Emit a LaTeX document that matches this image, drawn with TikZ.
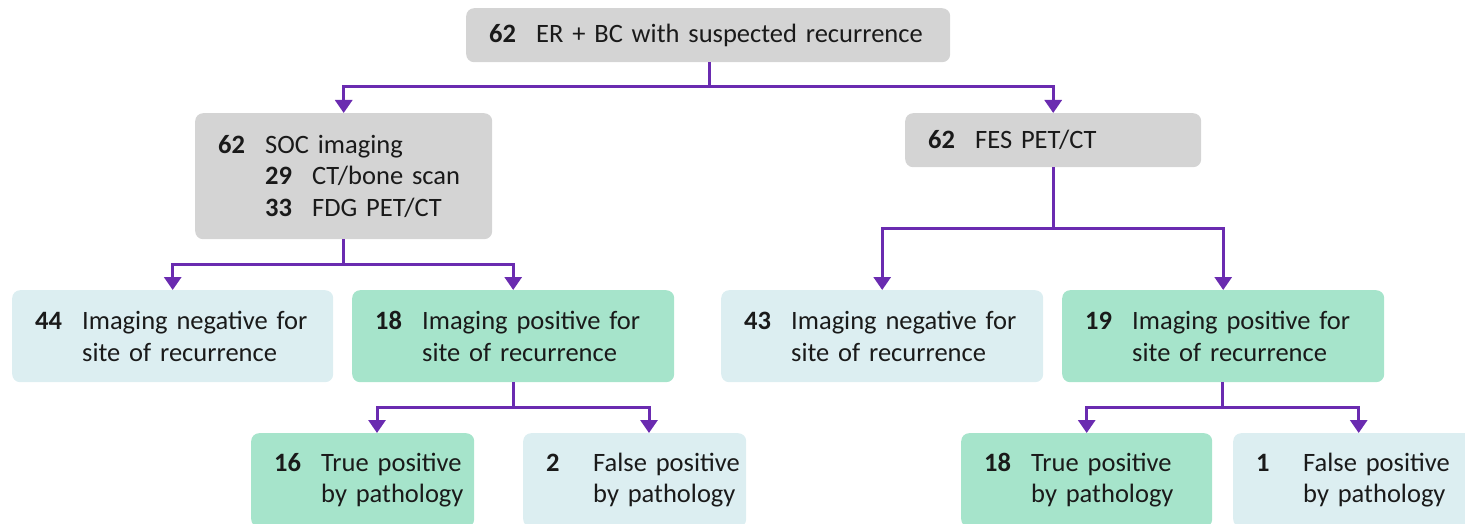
\documentclass[tikz,border=0pt]{standalone}
\usepackage{fontspec}
\setmainfont{Carlito}
\usetikzlibrary{arrows.meta, positioning}
\definecolor{boxgray}{HTML}{D4D4D4}
\definecolor{negblue}{HTML}{DCEEF1}
\definecolor{posgreen}{HTML}{A6E4CB}
\definecolor{linepurple}{HTML}{6A2BB0}
\definecolor{inkgray}{HTML}{1A1A1A}
\newcommand{\countlabel}[1]{\makebox[47pt][l]{\textbf{#1}}}
\newcommand{\indentline}{\hspace*{47pt}}
\newcommand{\twoline}[3]{\countlabel{#1}\mbox{#2}\\\indentline\mbox{#3}}

\begin{document}
\begin{tikzpicture}[
      x=1pt, y=-1pt,
      box/.style={rounded corners=8pt, inner xsep=23pt, inner ysep=0pt,
                  align=left, anchor=north west, text=inkgray,
                  font=\fontsize{26.5}{31.5}\selectfont},
      arr/.style={-{Triangle[width=17pt,length=13pt]}, line width=3pt,
                  draw=linepurple},
      stem/.style={line width=3pt, draw=linepurple}
    ]
    \useasboundingbox (0,0) rectangle (1465,524);
    \clip (0,0) rectangle (1465,524);

    % top level
    \node[box, fill=boxgray, text width=438pt, minimum height=54pt] (start)
      at (466,8) {\countlabel{62}\mbox{ER + BC with suspected recurrence}};

    % imaging arms
    \node[box, fill=boxgray, text width=251pt, minimum height=126pt] (soc)
      at (195,113)
      {\countlabel{62}\mbox{SOC imaging}\\
       \indentline\countlabel{29}\mbox{CT/bone scan}\\
       \indentline\countlabel{33}\mbox{FDG PET/CT}};
    \node[box, fill=boxgray, text width=250pt, minimum height=54pt] (fes)
      at (905,113) {\countlabel{62}\mbox{FES PET/CT}};

    % imaging results
    \node[box, fill=negblue, text width=275pt, minimum height=92pt] (socneg)
      at (12,290) {\twoline{44}{Imaging negative for}{site of recurrence}};
    \node[box, fill=posgreen, text width=276pt, minimum height=92pt] (socpos)
      at (352,290) {\twoline{18}{Imaging positive for}{site of recurrence}};
    \node[box, fill=negblue, text width=276pt, minimum height=92pt] (fesneg)
      at (721,290) {\twoline{43}{Imaging negative for}{site of recurrence}};
    \node[box, fill=posgreen, text width=276pt, minimum height=92pt] (fespos)
      at (1062,290) {\twoline{19}{Imaging positive for}{site of recurrence}};

    % pathology
    \node[box, fill=posgreen, text width=177pt, minimum height=94pt] (soctp)
      at (251,433) {\twoline{16}{True positive}{by pathology}};
    \node[box, fill=negblue, text width=177pt, minimum height=94pt] (socfp)
      at (523,433) {\twoline{2}{False positive}{by pathology}};
    \node[box, fill=posgreen, text width=205pt, minimum height=94pt] (festp)
      at (961,433) {\twoline{18}{True positive}{by pathology}};
    \node[box, fill=negblue, text width=205pt, minimum height=94pt] (fesfp)
      at (1233,433) {\twoline{1}{False positive}{by pathology}};

    % connectors
    \coordinate (j0) at (709,87);
    \coordinate (j1) at (343,264);
    \coordinate (j2) at (1053,228);
    \coordinate (j3) at (513,407);
    \coordinate (j4) at (1222,407);
    \coordinate (soctptop) at (377,433);
    \coordinate (socfptop) at (649,433);

    \draw[stem] (start.south -| j0) -- (j0);
    \draw[arr] (j0) -| (soc.north);
    \draw[arr] (j0) -| (fes.north);
    \draw[stem] (soc.south -| j1) -- (j1);
    \draw[arr] (j1) -| (socneg.north);
    \draw[arr] (j1) -| (socpos.north);
    \draw[stem] (fes.south -| j2) -- (j2);
    \draw[arr] (j2) -| (fesneg.north);
    \draw[arr] (j2) -| (fespos.north);
    \draw[stem] (socpos.south -| j3) -- (j3);
    \draw[arr] (j3) -| (soctptop);
    \draw[arr] (j3) -| (socfptop);
    \draw[stem] (fespos.south -| j4) -- (j4);
    \draw[arr] (j4) -| (festp.north);
    \draw[arr] (j4) -| (fesfp.north);
  \end{tikzpicture}
\end{document}
